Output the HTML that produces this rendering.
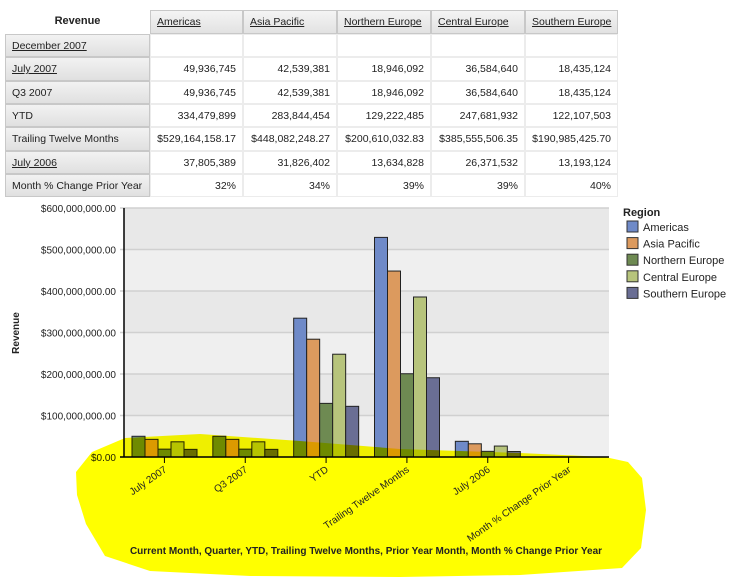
<!DOCTYPE html>
<html><head><meta charset="utf-8"><style>
body{margin:0;width:731px;height:579px;background:#fff;font-family:"Liberation Sans",Arial,sans-serif;position:relative;overflow:hidden}
.c{position:absolute;box-sizing:border-box;font-size:10.5px;color:#222;line-height:22px;white-space:nowrap;overflow:hidden}
.hd{background:linear-gradient(#f4f4f4,#e2e2e2);border:1px solid #c8c8c8}
.rh{background:linear-gradient(#f2f2f2,#e0e0e0);border:1px solid #c8c8c8;padding-left:6px}
.dc{border:1px solid #ececec;text-align:right;padding-right:6px;background:#fff}
u{text-decoration:underline}
</style></head><body>
<div id="tbl"></div>
<svg id="chart" width="731" height="579" style="position:absolute;left:0;top:0"></svg>
<script>
const regions=["Americas","Asia Pacific","Northern Europe","Central Europe","Southern Europe"];
const rowLabels=["December 2007","July 2007","Q3 2007","YTD","Trailing Twelve Months","July 2006","Month % Change Prior Year"];
const rowLinks=[true,true,false,false,false,true,false];
const tableText=[
["","","","",""],
["49,936,745","42,539,381","18,946,092","36,584,640","18,435,124"],
["49,936,745","42,539,381","18,946,092","36,584,640","18,435,124"],
["334,479,899","283,844,454","129,222,485","247,681,932","122,107,503"],
["$529,164,158.17","$448,082,248.27","$200,610,032.83","$385,555,506.35","$190,985,425.70"],
["37,805,389","31,826,402","13,634,828","26,371,532","13,193,124"],
["32%","34%","39%","39%","40%"]];
const categories=["July 2007","Q3 2007","YTD","Trailing Twelve Months","July 2006","Month % Change Prior Year"];
const americas=[49936745,49936745,334479899,529164158,37805389,0.32];
const asiaPacific=[42539381,42539381,283844454,448082248,31826402,0.34];
const northernEurope=[18946092,18946092,129222485,200610033,13634828,0.39];
const centralEurope=[36584640,36584640,247681932,385555506,26371532,0.39];
const southernEurope=[18435124,18435124,122107503,190985426,13193124,0.40];
const yTicks=[0,100000000,200000000,300000000,400000000,500000000,600000000];
const yTickLabels=["$0.00","$100,000,000.00","$200,000,000.00","$300,000,000.00","$400,000,000.00","$500,000,000.00","$600,000,000.00"];

const T=document.getElementById('tbl');
const colX=[5,150,243,337,431,525,618];
const rowY=[10,34,57.3,80.6,104,127.3,150.6,174,197.3];
function cell(cls,x,y,w,h,html,name,inter){
 const d=document.createElement('div');d.className='c '+cls;
 d.style.left=x+'px';d.style.top=y+'px';d.style.width=w+'px';d.style.height=h+'px';d.innerHTML=html;
 
 
 T.appendChild(d);}
cell('',5,10,145,24,'<b style="display:block;text-align:center;font-size:11px">Revenue</b>','table-title',false);
for(let i=0;i<5;i++)cell('hd',colX[i+1],rowY[0],colX[i+2]-colX[i+1],rowY[1]-rowY[0],'<span style="padding-left:6px"><u>'+regions[i]+'</u></span>','col-header-'+i,true);
for(let r=0;r<7;r++){
 const y=rowY[r+1],h=rowY[r+2]-y;
 cell('rh',colX[0],y,colX[1]-colX[0],h,rowLinks[r]?'<u>'+rowLabels[r]+'</u>':rowLabels[r],'row-header-'+r,rowLinks[r]);
 for(let i=0;i<5;i++)cell('dc',colX[i+1],y,colX[i+2]-colX[i+1],h,tableText[r][i],'cell-'+r+'-'+i,false);
}

const NS="http://www.w3.org/2000/svg";
const S=document.getElementById('chart');
function el(t,a,p){const e=document.createElementNS(NS,t);for(const k in a)e.setAttribute(k,a[k]);(p||S).appendChild(e);return e;}
const L=124,R=609,TOP=208,B=457;
const y=v=>B-(v/600000000)*(B-TOP);
const bw=(R-L)/categories.length;
const xc=i=>L+bw*(i+0.5);
const series=[americas,asiaPacific,northernEurope,centralEurope,southernEurope];
const colors=["#6f8ac8","#dc9a5e","#6e8a52","#b7c47c","#6a6e94"];
for(let i=0;i<yTicks.length-1;i++){
 const r=el('rect',{x:L,y:y(yTicks[i+1]),width:R-L,height:y(yTicks[i])-y(yTicks[i+1]),fill:i%2?'#e8e8e8':'#efefef'});
 
 
}
yTicks.forEach((v,i)=>{
 const g=el('line',{x1:L-4,x2:R,y1:y(v),y2:y(v),stroke:'#d0d0d0','stroke-width':1.5});
 
 
 const t=el('text',{x:L-8,y:y(v)+4,'text-anchor':'end','font-size':'10',fill:'#222','font-family':'Liberation Sans'});
 t.textContent=yTickLabels[i];
 
 
});
const barW=13;
series.forEach((s,si)=>{
 s.forEach((v,ci)=>{
  const x=xc(ci)-bw/2+8+si*barW;
  const b=el('rect',{x:x,y:y(v),width:barW,height:B-y(v),fill:colors[si],stroke:'#222','stroke-width':1});
  
  
 });
});
el('line',{x1:L,x2:L,y1:TOP,y2:B,stroke:'#000','stroke-width':1.5});
el('line',{x1:L-4,x2:R,y1:B,y2:B,stroke:'#000','stroke-width':1.5});
const hl=el('path',{d:'M76 472 L92 452 L125 438 L200 434 L300 441 L400 449 L520 453 L605 457 L628 462 L642 478 L646 510 L641 548 L622 568 L520 575 L400 577 L250 576 L150 571 L105 556 L86 524 L77 495 Z',fill:'#ffff00',style:'mix-blend-mode:multiply'});


categories.forEach((c,i)=>{
 el('line',{x1:xc(i),x2:xc(i),y1:B,y2:B+6,stroke:'#000'});
 const t=el('text',{x:xc(i)+3,y:B+14,'text-anchor':'end','font-size':'10',fill:'#222','font-family':'Liberation Sans',transform:`rotate(-35 ${xc(i)+3} ${B+14})`});
 t.textContent=c;
 
 
});
const xt=el('text',{x:366,y:554,'text-anchor':'middle','font-size':'10','font-weight':'bold',fill:'#222','font-family':'Liberation Sans'});
xt.textContent="Current Month, Quarter, YTD, Trailing Twelve Months, Prior Year Month, Month % Change Prior Year";


const yt=el('text',{x:19,y:333,'text-anchor':'middle','font-size':'10','font-weight':'bold',fill:'#222','font-family':'Liberation Sans',transform:'rotate(-90 19 333)'});
yt.textContent="Revenue";


const lt=el('text',{x:623,y:216,'font-size':'11','font-weight':'bold',fill:'#222','font-family':'Liberation Sans'});
lt.textContent="Region";


regions.forEach((r,i)=>{
 const yy=221+i*16.6;
 const sw=el('rect',{x:627,y:yy,width:11,height:11,fill:colors[i],stroke:'#333'});
 
 
 const t=el('text',{x:643,y:yy+10,'font-size':'11',fill:'#222','font-family':'Liberation Sans'});
 t.textContent=r;
 
 
});
</script>
</body></html>
